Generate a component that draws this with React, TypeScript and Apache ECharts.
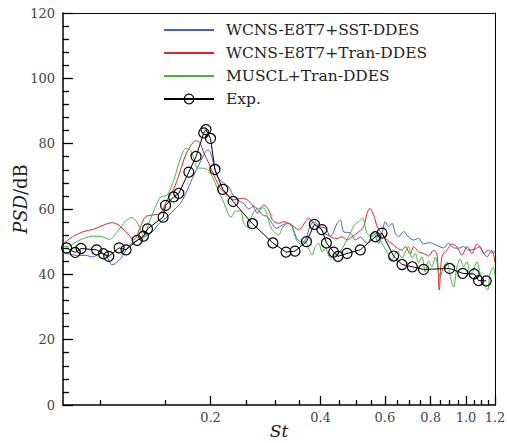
import { useEffect, useRef } from 'react';
import * as echarts from 'echarts';

const SERIES_NAMES = ['WCNS-E8T7+SST-DDES', 'WCNS-E8T7+Tran-DDES', 'MUSCL+Tran-DDES', 'Exp.'];

const X_MIN = 0.079;
const X_MAX = 1.2;
const X_MAJOR = [0.2, 0.4, 0.6, 0.8, 1.0, 1.2];
const X_MINOR = [0.1, 0.15, 0.25, 0.3, 0.35, 0.45, 0.5, 0.55, 0.65, 0.7, 0.75, 0.85, 0.9, 0.95, 1.05, 1.1, 1.15];
const Y_MIN = 0;
const Y_MAX = 120;
const Y_STEP = 20;

const sstData: [number, number][] = [
  [0.0793, 46.5], [0.0824, 46.2], [0.0861, 45.8], [0.0911, 45.8], [0.0952, 45.3], [0.1001, 46.4], [0.104, 45.5],
  [0.1076, 42.9], [0.1135, 44.8], [0.1198, 48.8], [0.1279, 50.8], [0.1371, 52.5], [0.1451, 55.7], [0.1523, 57.6],
  [0.1605, 60.2], [0.1656, 61.7], [0.1728, 65.8], [0.1801, 70.4], [0.1858, 73.5], [0.191, 76.2], [0.1963, 78.1],
  [0.2, 77.3], [0.2042, 73.5], [0.209, 69.8], [0.2175, 67.9], [0.2244, 66.8], [0.2297, 64.6], [0.237, 62.8],
  [0.2467, 61.7], [0.2545, 60.0], [0.2627, 60.9], [0.2711, 59.4], [0.2775, 58.2], [0.2864, 57.6], [0.2949, 55.6],
  [0.3029, 54.1], [0.3173, 55.3], [0.3289, 55.6], [0.3352, 54.5], [0.3452, 50.8], [0.3569, 49.9], [0.3637, 50.5],
  [0.3729, 54.2], [0.3824, 56.0], [0.3922, 55.4], [0.408, 52.8], [0.4255, 51.7], [0.4439, 55.6], [0.4532, 56.6],
  [0.4627, 53.0], [0.4825, 52.7], [0.498, 50.5], [0.5139, 51.4], [0.536, 49.5], [0.5587, 52.6], [0.5765, 49.5],
  [0.589, 52.6], [0.6013, 56.1], [0.614, 54.6], [0.6273, 55.6], [0.6404, 52.6], [0.6539, 51.5], [0.6748, 53.1],
  [0.6963, 51.4], [0.7186, 50.5], [0.7415, 51.0], [0.7652, 49.3], [0.798, 49.7], [0.8326, 48.8], [0.868, 48.1],
  [0.8957, 49.5], [0.9243, 48.1], [0.9538, 48.0], [0.9845, 48.5], [1.016, 47.4], [1.059, 47.8], [1.093, 48.5],
  [1.116, 46.4], [1.152, 47.4], [1.188, 46.4], [1.2, 47.1],
];

const tranData: [number, number][] = [
  [0.0793, 49.5], [0.0845, 51.7], [0.09, 53.1], [0.0958, 53.8], [0.102, 55.1], [0.1076, 55.8], [0.1121, 55.1],
  [0.1184, 52.6], [0.1234, 50.5], [0.1287, 54.6], [0.1328, 57.6], [0.1399, 58.2], [0.146, 58.7], [0.1523, 62.8],
  [0.1588, 66.3], [0.1639, 70.4], [0.1709, 76.5], [0.1764, 79.3], [0.182, 80.9], [0.187, 80.3], [0.1918, 77.1],
  [0.1979, 74.0], [0.2042, 70.4], [0.213, 66.3], [0.2222, 64.3], [0.2316, 62.8], [0.2442, 63.3], [0.252, 62.8],
  [0.2605, 61.2], [0.2689, 58.8], [0.2798, 61.2], [0.2887, 59.7], [0.2955, 56.6], [0.3074, 55.6], [0.3173, 56.1],
  [0.3275, 55.6], [0.3379, 54.6], [0.3487, 53.6], [0.3637, 56.1], [0.3713, 57.2], [0.3831, 55.6], [0.3954, 54.6],
  [0.4124, 54.1], [0.4255, 51.5], [0.4439, 51.0], [0.4581, 51.5], [0.4727, 50.5], [0.4878, 51.5], [0.5034, 52.6],
  [0.5247, 54.6], [0.536, 58.7], [0.5455, 60.2], [0.5587, 58.2], [0.5718, 54.5], [0.5901, 52.3], [0.609, 50.5],
  [0.6285, 49.3], [0.6486, 48.0], [0.668, 47.4], [0.682, 48.5], [0.7037, 46.2], [0.7186, 48.5], [0.7415, 46.9],
  [0.7652, 46.4], [0.7896, 45.6], [0.815, 47.4], [0.8326, 46.2], [0.8447, 35.2], [0.8592, 45.4], [0.8867, 47.4],
  [0.915, 49.3], [0.9443, 48.4], [0.9745, 45.9], [1.006, 48.5], [1.038, 46.4], [1.071, 49.3], [1.105, 47.4],
  [1.14, 45.4], [1.177, 47.4], [1.2, 43.5],
];

const musclData: [number, number][] = [
  [0.0793, 48.5], [0.0822, 48.7], [0.0846, 49.5], [0.09, 51.0], [0.0958, 51.7], [0.1012, 51.5], [0.1059, 50.7],
  [0.1114, 53.1], [0.1171, 56.3], [0.1217, 57.4], [0.1247, 56.6], [0.1279, 54.5], [0.1316, 51.4], [0.1356, 55.6],
  [0.1414, 60.6], [0.146, 63.6], [0.1523, 64.3], [0.1588, 68.9], [0.1656, 75.6], [0.1715, 78.6], [0.1764, 77.9],
  [0.1809, 75.0], [0.1843, 72.5], [0.1898, 72.5], [0.1959, 72.1], [0.2, 71.0], [0.2064, 67.7], [0.2121, 64.6],
  [0.2175, 62.0], [0.2226, 59.1], [0.2275, 57.4], [0.234, 59.4], [0.2416, 59.4], [0.2467, 55.6], [0.252, 54.5],
  [0.2572, 56.6], [0.2627, 59.2], [0.2711, 60.2], [0.2798, 60.3], [0.2864, 57.6], [0.2918, 54.6], [0.2979, 53.1],
  [0.3074, 52.0], [0.3141, 54.1], [0.3242, 55.6], [0.3346, 54.5], [0.3415, 51.1], [0.3524, 49.3], [0.3637, 50.0],
  [0.3713, 47.8], [0.3793, 45.9], [0.3872, 48.5], [0.3954, 49.5], [0.404, 46.8], [0.4124, 48.0], [0.4255, 45.0],
  [0.4391, 45.9], [0.4532, 47.1], [0.4676, 49.6], [0.4825, 52.7], [0.4949, 55.1], [0.5085, 56.1], [0.5205, 57.2],
  [0.536, 52.6], [0.5531, 51.5], [0.5682, 52.7], [0.589, 49.5], [0.6078, 46.9], [0.6273, 44.4], [0.6473, 47.1],
  [0.668, 45.0], [0.682, 46.8], [0.6963, 48.5], [0.7114, 44.9], [0.7262, 46.4], [0.7415, 43.5], [0.7575, 45.4],
  [0.7733, 40.7], [0.7896, 44.1], [0.8067, 42.3], [0.8237, 45.3], [0.85, 39.3], [0.868, 42.2], [0.8867, 43.8],
  [0.9052, 39.3], [0.9243, 36.1], [0.9443, 42.3], [0.964, 44.7], [0.9845, 42.3], [1.006, 43.9], [1.027, 39.8],
  [1.048, 41.3], [1.071, 43.9], [1.093, 40.3], [1.116, 37.3], [1.145, 35.2], [1.164, 40.3], [1.188, 42.3],
  [1.2, 39.3],
];

const expData: [number, number][] = [
  [0.0808, 48.1], [0.0853, 46.7], [0.0885, 47.9], [0.0976, 47.5], [0.1019, 46.3], [0.1054, 45.5], [0.1125, 48.1],
  [0.1175, 47.5], [0.126, 50.4], [0.1312, 51.7], [0.1345, 53.9], [0.1484, 57.5], [0.1507, 61.1], [0.1585, 63.7],
  [0.1638, 64.8], [0.1745, 71.3], [0.1826, 76.1], [0.1917, 83.3], [0.1944, 84.3], [0.2, 81.6], [0.2057, 72.1],
  [0.2161, 66.0], [0.2307, 62.3], [0.2605, 55.5], [0.2963, 49.6], [0.3217, 46.8], [0.3407, 47.1], [0.366, 50.0],
  [0.3847, 55.3], [0.4034, 53.7], [0.415, 49.6], [0.4345, 46.8], [0.4467, 45.5], [0.4725, 46.4], [0.5139, 47.5],
  [0.5646, 51.5], [0.589, 52.6], [0.6336, 45.6], [0.668, 43.0], [0.7128, 42.3], [0.7652, 41.5], [0.9013, 41.8],
  [0.9794, 40.3], [1.0528, 40.1], [1.0816, 38.1], [1.1354, 38.0],
];

const COLORS = ['#3d64c0', '#e0232b', '#45b83c', '#000000'];
const FONT = "'DejaVu Serif', 'Liberation Serif', serif";

const lg = (v: number) => Math.log10(v);
const toLog = (d: [number, number][]) => d.map(([s, p]) => [lg(s), p]);

export default function App() {
  const ref = useRef<HTMLDivElement>(null);

  useEffect(() => {
    if (!ref.current) return;
    const chart = echarts.init(ref.current, undefined, { renderer: 'svg' });
    const simSeries = [sstData, tranData, musclData].map((d, i) => ({
      name: SERIES_NAMES[i],
      type: 'line',
      xAxisIndex: 0,
      yAxisIndex: 0,
      data: toLog(d),
      symbol: 'none',
      showSymbol: false,
      smooth: 0.3,
      lineStyle: { color: COLORS[i], width: 1 },
      itemStyle: { color: COLORS[i] },
      z: 2 + i,
    }));
    const xBase = { type: 'value', min: lg(X_MIN), max: lg(X_MAX), splitLine: { show: false } };
    const yBase = { type: 'value', min: Y_MIN, max: Y_MAX, interval: Y_STEP, splitLine: { show: false } };
    const option: any = {
      animation: false,
      backgroundColor: '#ffffff',
      grid: { left: 63, right: 12, top: 13, bottom: 38, outerBoundsMode: 'none', containLabel: false },
      legend: {
        orient: 'vertical',
        left: 158,
        top: 17,
        itemWidth: 50,
        itemHeight: 12,
        itemGap: 7,
        data: [
          { name: SERIES_NAMES[0], itemStyle: { color: 'rgba(0,0,0,0)', borderWidth: 0 } },
          { name: SERIES_NAMES[1], itemStyle: { color: 'rgba(0,0,0,0)', borderWidth: 0 } },
          { name: SERIES_NAMES[2], itemStyle: { color: 'rgba(0,0,0,0)', borderWidth: 0 } },
          { name: SERIES_NAMES[3], itemStyle: { color: 'rgba(255,255,255,0)', borderColor: '#000', borderWidth: 1.2 } },
        ],
        textStyle: { fontFamily: FONT, fontSize: 15.5, color: '#222', padding: [0, 0, 0, 7] },
      },
      xAxis: [
        {
          ...xBase,
          position: 'bottom',
          axisLine: { show: true, onZero: false, lineStyle: { color: '#000', width: 1.5 } },
          axisTick: { show: true, inside: true, length: 9, customValues: X_MAJOR.map(lg), lineStyle: { color: '#000', width: 1.3 } },
          axisLabel: {
            show: true,
            customValues: X_MAJOR.map(lg),
            formatter: (v: number) => Math.pow(10, v).toFixed(1),
            color: '#444', fontFamily: FONT, fontSize: 13, margin: 6,
          },
          name: 'St',
          nameLocation: 'middle',
          nameMoveOverlap: false,
          nameGap: 17,
          nameTextStyle: { fontFamily: FONT, fontStyle: 'italic', fontSize: 17, color: '#222' },
        },
        {
          ...xBase,
          position: 'bottom',
          axisLine: { show: false, onZero: false },
          axisTick: { show: true, inside: true, length: 5, customValues: X_MINOR.map(lg), lineStyle: { color: '#000', width: 1.3 } },
          axisLabel: { show: false },
        },
        {
          ...xBase,
          position: 'top',
          axisLine: { show: true, onZero: false, lineStyle: { color: '#000', width: 1 } },
          axisTick: { show: false },
          axisLabel: { show: false },
        },
      ],
      yAxis: [
        {
          ...yBase,
          position: 'left',
          axisLine: { show: true, onZero: false, lineStyle: { color: '#000', width: 1.5 } },
          axisTick: { show: true, inside: true, length: 10, lineStyle: { color: '#000', width: 1.3 } },
          minorTick: { show: true, splitNumber: 5, length: 6, lineStyle: { color: '#000', width: 1.3 } },
          axisLabel: { show: true, color: '#444', fontFamily: FONT, fontSize: 13, margin: 8 },
          name: '{i|PSD}{n|/dB}',
          nameLocation: 'middle',
          nameMoveOverlap: false,
          nameRotate: 90,
          nameGap: 34,
          nameTextStyle: {
            padding: [0, 0, 0, 20],
            rich: {
              i: { fontFamily: FONT, fontStyle: 'italic', fontSize: 18, color: '#222' },
              n: { fontFamily: FONT, fontSize: 18, color: '#222' },
            },
          },
        },
        {
          ...yBase,
          position: 'right',
          axisLine: { show: true, onZero: false, lineStyle: { color: '#000', width: 1 } },
          axisTick: { show: false },
          axisLabel: { show: false },
        },
      ],
      series: [
        ...simSeries,
        {
          name: SERIES_NAMES[3],
          type: 'line',
          xAxisIndex: 0,
          yAxisIndex: 0,
          data: toLog(expData),
          symbol: 'circle',
          symbolSize: 10,
          showSymbol: true,
          lineStyle: { color: '#000', width: 1 },
          itemStyle: { color: 'rgba(255,255,255,0)', borderColor: '#000', borderWidth: 1.2 },
          z: 10,
        },
      ],
    };
    chart.setOption(option);
    return () => chart.dispose();
  }, []);

  return <div ref={ref} style={{ position: 'absolute', left: 0, top: 0, width: 507, height: 443 }} />;
}
